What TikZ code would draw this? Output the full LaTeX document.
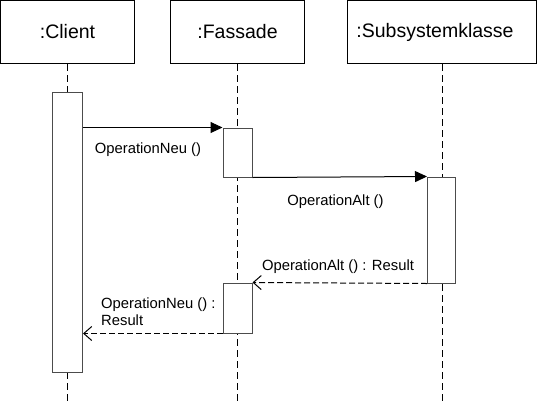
\documentclass[tikz,border=0pt]{standalone}
\usepackage{fontspec}
\setmainfont{Liberation Sans}
\usetikzlibrary{arrows.meta}
\begin{document}
\begin{tikzpicture}[x=1pt,y=-1pt,
  objbox/.style={draw=black,line width=1pt,fill=white,inner sep=0pt,font=\fontsize{19.5}{23}\selectfont},
  actbox/.style={draw=black!70,line width=1pt,fill=white},
  life/.style={line width=1pt,dash pattern=on 7pt off 4pt},
  msg/.style={line width=1pt,-{Triangle[length=12pt,width=11pt]}},
  ret/.style={line width=1pt,dash pattern=on 6pt off 3pt,-{Straight Barb[length=8pt,width=14pt,line width=1pt]}},
  lbl/.style={font=\fontsize{14.8}{17}\selectfont,inner sep=0pt,align=left}]
\useasboundingbox (0,0) rectangle (537,410);
% lifelines
\coordinate (cl0) at (67.5,64); \coordinate (cl1) at (67.5,401);
\coordinate (fa0) at (237.5,64); \coordinate (fa1) at (237.5,401);
\coordinate (su0) at (442,64); \coordinate (su1) at (442,401);
\draw[life] (cl0) -- (cl1);
\draw[life] (fa0) -- (fa1);
\draw[life] (su0) -- (su1);
% object boxes
\node[objbox,minimum width=134pt,minimum height=63pt] (client) at (67.5,32) {:Client};
\node[objbox,minimum width=134pt,minimum height=63pt] (fassade) at (237.5,32) {:Fassade};
\node[objbox,minimum width=189pt,minimum height=63pt] (sub) at (442,32) {\hspace*{-14pt}:Subsystemklasse};
% activations
\node[actbox,minimum width=30pt,minimum height=280pt,inner sep=0pt] (aC) at (67.5,232) {};
\node[actbox,minimum width=29pt,minimum height=49pt,inner sep=0pt] (aF1) at (237.5,152.5) {};
\node[actbox,minimum width=28pt,minimum height=106pt,inner sep=0pt] (aS) at (441.5,230) {};
\node[actbox,minimum width=29pt,minimum height=50pt,inner sep=0pt] (aF2) at (237.5,308) {};
% messages
\draw[msg] (aC.east |- aF1.north) -- (aF1.north west);
\draw[msg] (aF1.south east) -- (aS.north west);
\draw[ret] (aS.south west) -- (aF2.north east);
\draw[ret] (aF2.south west) -- (aC.east |- aF2.south);
% labels
\node[lbl] (l1) at (148,150) {OperationNeu ()};
\node[lbl] (l2) at (335.5,202) {OperationAlt ()};
\node[lbl] (l3) at (338,267) {OperationAlt () : Result};
\node[lbl,anchor=west] (l4) at (101,311.5) {OperationNeu () :\\Result};
\end{tikzpicture}
\end{document}
